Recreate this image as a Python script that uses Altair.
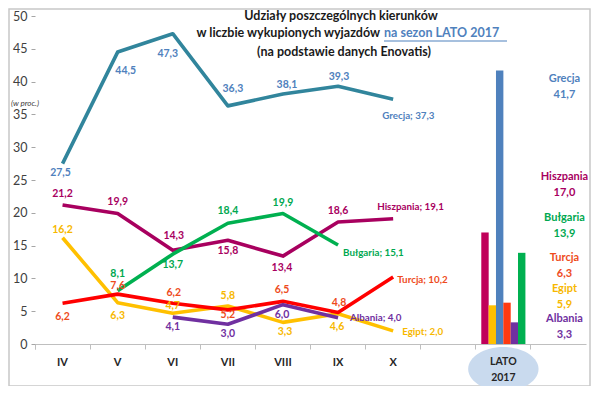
import altair as alt
import pandas as pd

# ---------------- data ----------------
months = ["IV", "V", "VI", "VII", "VIII", "IX", "X"]
x_domain = ["IV", "V", "VI", "VII", "VIII", "IX", "X", " ", "LATO 2017", "  "]

series_names = ["Grecja", "Hiszpania", "Bułgaria", "Egipt", "Turcja", "Albania"]
grecja = [27.5, 44.5, 47.3, 36.3, 38.1, 39.3, 37.3]
hiszpania = [21.2, 19.9, 14.3, 15.8, 13.4, 18.6, 19.1]
bulgaria = [None, 8.1, 13.7, 18.4, 19.9, 15.1, None]
egipt = [16.2, 6.3, 4.7, 5.8, 3.3, 4.6, 2.0]
turcja = [6.2, 7.6, 6.2, 5.2, 6.5, 4.8, 10.2]
albania = [None, None, 4.1, 3.0, 6.0, 4.0, None]
series_values = [grecja, hiszpania, bulgaria, egipt, turcja, albania]

lato_names = ["Hiszpania", "Egipt", "Grecja", "Turcja", "Albania", "Bułgaria"]
lato_values = [17.0, 5.9, 41.7, 6.3, 3.3, 13.9]

# right-hand legend order (top to bottom)
legend_names = ["Grecja", "Hiszpania", "Bułgaria", "Turcja", "Egipt", "Albania"]

y_ticks = [0, 5, 10, 15, 20, 25, 30, 35, 40, 45, 50]

# ---------------- styles ----------------
line_colors = ["#31859C", "#A8005F", "#00B050", "#FFC000", "#FF0000", "#7030A0"]
label_colors = ["#4F81BD", "#A8005F", "#00A850", "#F7B800", "#EE4B1C", "#7030A0"]
bar_colors = ["#C0005A", "#FFC000", "#4F81BD", "#FF3A10", "#7030A0", "#00B050"]

# label offsets in pixels (dx, dy) per point; last point is end label (left aligned)
label_dx = {
    "Grecja": [-2, 8, -5, 5, 4, 1, -11],
    "Hiszpania": [0, 0, 1, 0, -1, 0, -16],
    "Bułgaria": [0, 0, 0, 0, 0, 5, 0],
    "Turcja": [0, 0, 1, 0, -1, 1, 4],
    "Egipt": [0, 0, 0, 0, 2, -1, 9],
    "Albania": [0, 0, 0, 0, -1, 12, 0],
}
label_dy = {
    "Grecja": [9, 19, 20, -17, -9, -9, 17],
    "Hiszpania": [-11, -11, -14, 11, 12, -11, -12],
    "Bułgaria": [0, -17, 11, -12, -10, 8, 0],
    "Turcja": [14, -8, -10, 5, -11, -10, 3],
    "Egipt": [-8, 13, -7, -10, 10, 13, 1],
    "Albania": [0, 0, 10, 10, 10, 0, 0],
}
legend_levels = [40.4, 25.5, 19.2, 13.1, 8.4, 3.8]

FONT = "Lato"
W, H = 551, 328
YMAX = 50
HALF_BAND = W / len(x_domain) / 2


def fmt(v):
    return f"{v:.1f}".replace(".", ",")


rows = []
for name, vals in zip(series_names, series_values):
    valid = [i for i, v in enumerate(vals) if v is not None]
    last = valid[-1]
    for i, v in enumerate(vals):
        if v is None:
            continue
        is_end = i == last
        rows.append({
            "month": months[i],
            "series": name,
            "value": v,
            "order": i,
            "label": f"{name}; {fmt(v)}" if is_end else fmt(v),
            "end": is_end,
            "dx": label_dx[name][i],
            "dy": label_dy[name][i],
        })
df = pd.DataFrame(rows)
df["ly"] = df["value"] - df["dy"] * YMAX / H
df["ox"] = df["dx"] + HALF_BAND

bars = pd.DataFrame({"cat": "LATO 2017", "name": lato_names, "value": lato_values})

leg_val = dict(zip(lato_names, lato_values))
legend_df = pd.DataFrame({
    "cat": "  ",
    "name": legend_names,
    "vtxt": [fmt(leg_val[n]) for n in legend_names],
    "level": legend_levels,
})

xscale = alt.Scale(domain=x_domain, type="band", paddingInner=0, paddingOuter=0)
yscale = alt.Scale(domain=[0, YMAX], nice=False)

x_axis = alt.Axis(
    title=None, bandPosition=0, tickExtra=True, labelAngle=0,
    labelFont=FONT, labelFontSize=11, labelFontWeight="bold", labelColor="#262626",
    domainColor="#BFBFBF", tickColor="#BFBFBF", tickSize=5, labelPadding=7,
    labelExpr="datum.value == 'LATO 2017' ? '' : datum.value",
)
y_axis = alt.Axis(
    title=None, values=y_ticks, tickCount=11, labelFont=FONT, labelFontSize=12.5,
    labelColor="#404040", domain=False, tickColor="#A6A6A6", tickSize=4,
    labelPadding=4, grid=False, labelOverlap=False, labelFlush=False,
)


def X(field):
    return alt.X(field, scale=xscale, sort=x_domain, axis=x_axis)


def Y(field):
    return alt.Y(field, scale=yscale, axis=y_axis)


lines = alt.Chart(df).mark_line(strokeWidth=3.6, strokeJoin="round").encode(
    x=X("month:N"),
    y=Y("value:Q"),
    color=alt.Color("series:N", scale=alt.Scale(domain=series_names, range=line_colors), legend=None),
    detail="series:N",
    order="order:Q",
)

lbl_color = alt.Color("series:N", scale=alt.Scale(domain=series_names, range=label_colors), legend=None)
num_labels = alt.Chart(df[~df["end"]]).mark_text(
    font=FONT, fontSize=10.5, fontWeight="bold", align="center", baseline="middle"
).encode(
    x=X("month:N"), y=Y("ly:Q"), xOffset=alt.XOffset("ox:Q", scale=None),
    text="label:N", color=lbl_color,
)
end_labels = alt.Chart(df[df["end"]]).mark_text(
    font=FONT, fontSize=9.8, fontWeight="bold", align="left", baseline="middle"
).encode(
    x=X("month:N"), y=Y("ly:Q"), xOffset=alt.XOffset("ox:Q", scale=None),
    text="label:N", color=lbl_color,
)

# ellipse behind "LATO 2017"
ellipse_path = "M-1.6,0 A1.6,1 0 1,0 1.6,0 A1.6,1 0 1,0 -1.6,0 Z"
ell = alt.Chart(pd.DataFrame({"cat": ["LATO 2017"]})).mark_point(
    shape=ellipse_path, filled=True, fill="#C9DAEE", opacity=1, strokeWidth=0, size=1936
).encode(
    x=X("cat:N"),
    y=alt.value(H + 25),
)
lato_df = pd.DataFrame({"cat": ["LATO 2017", "LATO 2017"], "t": ["LATO", "2017"], "py": [H + 18, H + 34]})
lato_txt = alt.Chart(lato_df).mark_text(
    font=FONT, fontSize=10.5, fontWeight="bold", color="#262626",
    baseline="middle", align="center",
).encode(
    x=X("cat:N"),
    y=alt.Y("py:Q", scale=None),
    text="t:N",
)

bar_layer = alt.Chart(bars).mark_bar(size=7.4).encode(
    x=X("cat:N"),
    xOffset=alt.XOffset("name:N", scale=alt.Scale(domain=lato_names, paddingInner=0, paddingOuter=0.75)),
    y=Y("value:Q"),
    color=alt.Color("name:N", scale=alt.Scale(domain=lato_names, range=bar_colors), legend=None),
)

leg_color = alt.Color("name:N", scale=alt.Scale(domain=series_names, range=label_colors), legend=None)
leg_names = alt.Chart(legend_df).mark_text(
    font=FONT, fontSize=11, fontWeight="bold", align="center", baseline="middle", dx=6
).encode(
    x=X("cat:N"),
    y=Y("level:Q"),
    text="name:N",
    color=leg_color,
)
leg_vals = alt.Chart(legend_df).mark_text(
    font=FONT, fontSize=11, fontWeight="bold", align="center", baseline="middle", dx=6, dy=16
).encode(
    x=X("cat:N"),
    y=Y("level:Q"),
    text="vtxt:N",
    color=leg_color,
)

one = pd.DataFrame({"a": [0]})


def txt(text, x, y, align="center", color="#1a1a1a", size=12.5, weight="bold", style="normal"):
    return alt.Chart(one).mark_text(
        text=text, font=FONT, fontSize=size, fontWeight=weight, fontStyle=style,
        color=color, align=align, baseline="middle",
    ).encode(x=alt.value(x), y=alt.value(y))


title1 = txt("Udziały poszczególnych kierunków", 306, 0)
title2a = txt("w liczbie wykupionych wyjazdów", 345, 17, align="right")
title2b = txt("na sezon LATO 2017", 349, 17, align="left", color="#4F81BD")
title3 = txt("(na podstawie danych Enovatis)", 309, 36)
underline = alt.Chart(one).mark_rule(color="#4F81BD", strokeWidth=1).encode(
    x=alt.value(349), x2=alt.value(472), y=alt.value(25)
)
wproc = txt("(w proc.)", -24, 88, align="left", color="#404040", size=8, weight="normal", style="italic")

frame = alt.Chart(one).mark_rect(fillOpacity=0, stroke="#C8C8C8", strokeWidth=1.5).encode(
    x=alt.value(-26), x2=alt.value(W + 4), y=alt.value(-7), y2=alt.value(H + 42)
)

chart = alt.layer(
    bar_layer, frame, ell, lines, num_labels, end_labels, lato_txt, leg_names, leg_vals,
    title1, title2a, title2b, title3, underline, wproc,
).resolve_scale(color="independent").properties(
    width=W, height=H,
    autosize=alt.AutoSizeParams(type="none"),
    padding={"left": 27, "top": 8, "right": 5, "bottom": 42},
    background="white",
).configure_view(strokeWidth=0)

chart.save("out.html", embed_options={"renderer": "svg", "actions": False})
